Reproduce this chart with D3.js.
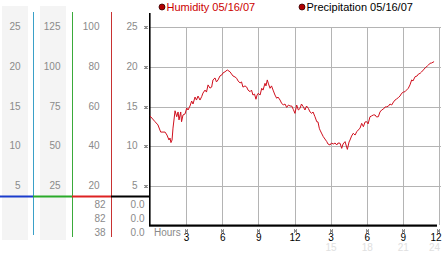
<!DOCTYPE html>
<html><head><meta charset="utf-8">
<script src="https://cdn.jsdelivr.net/npm/d3@7/dist/d3.min.js"></script>
<style>body{margin:0;background:#fff}svg{display:block}text{font-family:"Liberation Sans",Arial,sans-serif}</style>
</head><body><div id="c"></div>
<script>
// ---- data ----
const col1Ticks = [25, 20, 15, 10, 5];
const col2Ticks = [125, 100, 75, 50, 25];
const col3Ticks = [100, 80, 60, 40, 20];
const col4Ticks = [25, 20, 15, 10, 5];
const col3Values = ["82", "82", "38"];
const col4Values = ["0.0", "0.0", "0.0"];
const hourTicks = [3, 6, 9, 12, 15, 18, 21, 24];
const hourLabels = ["3", "6", "9", "12", "3", "6", "9", "12"];
const hourFaint = ["15", "18", "21", "24"];
const legendLabels = ["Humidity 05/16/07", "Precipitation 05/16/07"];
const hours = [0.00,0.42,0.66,0.89,1.25,1.41,1.58,1.66,1.74,1.83,1.91,2.08,2.22,2.33,2.41,2.55,2.62,2.74,2.91,3.05,3.16,3.32,3.46,3.57,3.74,3.86,3.99,4.15,4.29,4.40,4.57,4.69,4.82,4.98,5.12,5.23,5.40,5.52,5.65,5.81,5.96,6.06,6.23,6.42,6.64,6.77,6.89,7.06,7.20,7.31,7.48,7.60,7.72,7.89,8.03,8.14,8.31,8.43,8.55,8.68,8.80,8.89,8.99,9.14,9.28,9.39,9.55,9.63,9.74,9.84,9.97,10.09,10.22,10.38,10.52,10.63,10.80,10.92,11.07,11.21,11.35,11.50,11.63,11.77,11.90,12.04,12.18,12.32,12.46,12.58,12.73,12.87,13.00,13.15,13.29,13.43,13.54,13.70,13.85,13.95,14.06,14.12,14.24,14.39,14.53,14.68,14.78,14.95,15.07,15.22,15.37,15.51,15.61,15.78,15.92,16.03,16.20,16.28,16.39,16.53,16.61,16.74,16.88,17.03,17.17,17.28,17.44,17.58,17.72,17.86,18.00,18.11,18.27,18.40,18.55,18.69,18.81,18.96,19.10,19.24,19.39,19.52,19.66,19.81,19.93,20.07,20.22,20.35,20.47,20.62,20.76,20.90,21.05,21.18,21.30,21.45,21.59,21.73,21.84,22.01,22.18,22.30,22.43,22.55,22.70,22.84,23.03,23.13,23.26,23.38,23.59];
const humidity = [55.3,52.4,50.8,47.2,47.2,45.7,43.2,44.2,41.9,43.2,49.2,57.9,54.9,57.3,53.3,57.3,52.4,55.8,56.3,59.3,58.3,60.3,62.8,61.3,64.8,63.3,65.3,63.3,65.0,66.8,68.3,67.3,70.9,69.3,69.8,73.4,74.4,72.4,73.4,75.4,75.9,76.9,77.5,78.4,77.5,76.4,75.4,74.9,74.2,72.9,71.9,72.4,69.8,70.4,69.8,68.3,67.5,68.3,65.8,66.3,63.7,65.8,66.7,65.8,69.2,68.3,71.7,70.4,73.4,71.4,69.2,70.4,68.3,65.8,64.2,64.8,63.3,61.8,60.8,61.3,59.6,60.8,60.3,60.3,58.6,56.6,60.8,58.3,59.1,61.3,59.9,58.3,60.3,59.1,57.3,56.6,57.3,54.9,52.4,52.3,49.1,48.2,46.7,44.9,43.7,42.4,41.2,40.7,41.7,41.2,41.7,40.7,41.7,41.6,39.0,41.2,42.4,40.7,38.5,42.2,43.2,45.2,46.6,45.7,47.4,48.2,49.1,51.6,49.9,52.3,52.4,51.3,54.9,55.3,55.8,55.8,54.8,54.9,57.3,58.3,58.8,59.8,59.9,60.3,61.3,60.8,62.3,63.3,63.8,64.5,65.3,66.7,67.3,67.5,68.3,69.2,70.9,73.4,72.9,75.0,75.4,76.4,76.7,77.4,78.4,79.4,80.4,80.9,81.8,81.9,82.6];

// ---- layout ----
const W = 442, H = 253;
const svg = d3.select("#c").append("svg").attr("width", W).attr("height", H);
const x = d3.scaleLinear().domain([0, 24]).range([150, 439]);
const y = d3.scaleLinear().domain([0, 25]).range([226, 27]);
const yHum = d3.scaleLinear().domain([0, 100]).range([226, 27]);
const gridVals = [5, 10, 15, 20, 25];

// gray column backgrounds
svg.append("rect").attr("x", 2).attr("y", 6).attr("width", 26).attr("height", 234).attr("fill", "#f4f4f4");
svg.append("rect").attr("x", 40).attr("y", 6).attr("width", 26).attr("height", 234).attr("fill", "#f4f4f4");

// column axes labels
const cols = [
  {ticks: col1Ticks, max: 25, xr: 20.5},
  {ticks: col2Ticks, max: 125, xr: 60.5},
  {ticks: col3Ticks, max: 100, xr: 99.5},
  {ticks: col4Ticks, max: 25, xr: 137.5}
];
cols.forEach(c => {
  const s = d3.scaleLinear().domain([0, c.max]).range([226, 27]);
  svg.append("g").selectAll("text").data(c.ticks).join("text")
    .attr("x", c.xr).attr("y", d => s(d) + 3)
    .attr("text-anchor", "end").attr("font-size", 10).attr("fill", "#8a8a8a")
    .text(d => d);
});
// bottom values
svg.append("g").selectAll("text").data(col3Values).join("text")
  .attr("x", 105.5).attr("y", (d, i) => 208 + i * 14)
  .attr("text-anchor", "end").attr("font-size", 10).attr("fill", "#8a8a8a").text(d => d);
svg.append("g").selectAll("text").data(col4Values).join("text")
  .attr("x", 144.5).attr("y", (d, i) => 208 + i * 14)
  .attr("text-anchor", "end").attr("font-size", 10).attr("fill", "#8a8a8a").text(d => d);

// vertical separators
[[33.5, "#3aa0c8", 235], [72.5, "#3aaa3a", 237], [111.5, "#c83232", 237]].forEach(([xx, col, y2]) => {
  svg.append("line").attr("x1", xx).attr("x2", xx).attr("y1", 12).attr("y2", y2)
    .attr("stroke", col).attr("stroke-width", 1);
});
// horizontal colored bars
[[0, 33, "#1a3ccc"], [33, 72, "#2aaa2a"], [72, 111, "#dd2222"], [111, 150, "#000"]].forEach(([a, b, col]) => {
  svg.append("rect").attr("x", a).attr("y", 195.5).attr("width", b - a).attr("height", 2).attr("fill", col);
});

// gridlines
svg.append("g").selectAll("line").data(gridVals).join("line")
  .attr("x1", 150).attr("x2", 441).attr("y1", d => Math.round(y(d)) + 0.5).attr("y2", d => Math.round(y(d)) + 0.5)
  .attr("stroke", "#b4b4b4").attr("stroke-width", 1);
svg.append("g").selectAll("line").data(hourTicks).join("line")
  .attr("x1", d => Math.round(x(d)) + 0.5).attr("x2", d => Math.round(x(d)) + 0.5)
  .attr("y1", y(25)).attr("y2", 225)
  .attr("stroke", "#b4b4b4").attr("stroke-width", 1);

// axes lines
svg.append("rect").attr("x", 149).attr("y", 13).attr("width", 1.6).attr("height", 213).attr("fill", "#000");
svg.append("rect").attr("x", 149).attr("y", 224.5).attr("width", 288).attr("height", 2.2).attr("fill", "#000");

// small checker markers
function marker(cx, cy) {
  const g = svg.append("g").attr("transform", `translate(${cx - 1.5},${cy - 1.5})`);
  [[0,0],[2,0],[1,1],[0,2],[2,2]].forEach(([a, b]) => g.append("rect").attr("x", a).attr("y", b).attr("width", 1).attr("height", 1).attr("fill", "#222"));
}
gridVals.forEach(v => marker(146, Math.round(y(v)) + 0.5));
hourTicks.forEach(h => marker(Math.min(Math.round(x(h)) + 0.5, 438.5), 231));

// x labels
svg.append("text").attr("x", 154).attr("y", 235.5).attr("font-size", 10).attr("fill", "#8a8a8a").text("Hours");
svg.append("g").selectAll("text").data(hourTicks).join("text")
  .attr("x", (d, i) => i === hourTicks.length - 1 ? 441.5 : x(d) + 0.5).attr("y", 241)
  .attr("text-anchor", (d, i) => i === hourTicks.length - 1 ? "end" : "middle")
  .attr("font-size", 10).attr("fill", "#000")
  .text((d, i) => hourLabels[i]);
svg.append("g").selectAll("text").data(hourFaint).join("text")
  .attr("x", (d, i) => i === hourFaint.length - 1 ? 440 : x(hourTicks[i + 4]) + 0.5).attr("y", 251)
  .attr("text-anchor", (d, i) => i === hourFaint.length - 1 ? "end" : "middle")
  .attr("font-size", 10).attr("fill", "#e0e0e0")
  .text(d => d);

// humidity line
const line = d3.line().x((d, i) => x(hours[i])).y(d => yHum(d));
svg.append("path").datum(humidity).attr("d", line)
  .attr("fill", "none").attr("stroke", "#d0101e").attr("stroke-width", 1);

// legend
const legX = [162, 302];
const legCol = ["#cc0000", "#000"];
legendLabels.forEach((t, i) => {
  svg.append("circle").attr("cx", legX[i]).attr("cy", 7).attr("r", 3)
    .attr("fill", "#b00000").attr("stroke", "#300").attr("stroke-width", 0.8);
  svg.append("text").attr("x", legX[i] + 4.5).attr("y", 11).attr("font-size", 11)
    .attr("fill", legCol[i]).text(t);
});
</script></body></html>
